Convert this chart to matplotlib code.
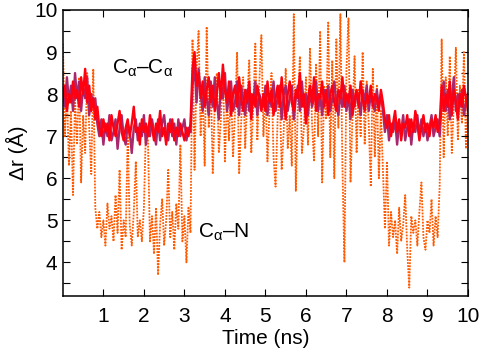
"""Distance fluctuations of C-alpha pairs over a 10 ns trajectory."""
import numpy as np
import matplotlib
matplotlib.use('Agg')
import matplotlib.pyplot as plt
from matplotlib.ticker import MultipleLocator

plt.rcParams['font.family'] = ['Liberation Sans', 'DejaVu Sans']
plt.rcParams['mathtext.fontset'] = 'custom'
plt.rcParams['mathtext.rm'] = 'Liberation Sans'
plt.rcParams['mathtext.it'] = 'Liberation Sans'

# Ca-Ca distance (red), sampled every 0.05 ns
ca_ca = [
    7.9, 8.2, 7.6, 8.0, 7.8, 8.3, 7.9, 8.1, 7.7, 8.4, 8.0, 8.6, 7.8, 8.2, 7.6, 7.9, 7.4, 7.7,
    7.2, 7.0, 7.4, 7.1, 7.3, 6.9, 7.5, 7.2, 7.0, 7.3, 7.6, 7.1, 6.9, 7.2, 7.4, 7.0, 7.3, 7.7,
    7.1, 7.2, 6.8, 7.4, 7.1, 7.3, 7.0, 7.5, 7.2, 6.9, 7.3, 7.1, 7.6, 7.0, 7.2, 6.8, 7.3, 7.1,
    7.4, 6.9, 7.2, 7.0, 7.3, 7.1, 6.9, 7.2, 7.0, 7.3,
    8.6, 9.0, 8.2, 8.5, 7.9, 8.3, 7.7, 8.1, 8.4, 7.8, 8.2, 7.6, 8.0, 8.5, 7.9, 8.7, 8.1, 7.8,
    8.3, 7.5, 8.0, 8.2, 7.7, 8.4, 7.9, 7.6, 8.1, 7.8, 8.3, 7.4, 8.0, 7.7, 8.2, 7.9, 7.6,
    8.0, 7.6, 8.3, 7.8, 8.1, 7.5, 7.9, 8.2, 7.7, 8.4, 7.9, 7.4, 8.0, 8.3, 7.8, 7.6, 8.1, 7.9,
    8.5, 7.7, 8.0, 7.3, 7.9, 8.2, 7.8, 8.4, 7.6, 8.0, 7.9, 8.3, 7.7, 8.1, 7.5, 8.0, 8.2, 7.8,
    7.6, 8.1, 7.9, 8.4, 7.7, 8.0, 7.8, 8.2, 7.5, 7.9, 8.1, 7.7, 8.3, 7.9, 7.6, 8.0, 7.8, 8.2,
    7.7, 8.0, 7.9, 7.6, 8.1, 7.8,
    7.4, 7.2, 7.5, 7.0, 7.3, 7.6, 7.1, 7.4, 6.9, 7.3, 7.2, 7.5, 7.0, 7.4, 7.1, 7.6, 7.3, 6.9,
    7.2, 7.5, 7.1, 7.3, 7.0, 7.4, 7.2, 7.5, 7.1, 7.3,
    8.2, 7.6, 8.0, 7.7, 8.3, 7.5, 8.1, 7.8, 7.4, 8.0, 7.7, 8.2, 7.9, 7.6,
]

# second Ca-Ca trace drawn underneath (purple)
ca_ca_b = [
    8.1, 7.7, 8.4, 7.8, 8.2, 7.6, 8.5, 7.9, 8.3, 7.6, 8.2, 7.9, 8.4, 7.5, 8.0, 7.7, 7.9, 7.3,
    7.0, 7.4, 6.8, 7.3, 7.0, 7.5, 6.9, 7.1, 7.4, 6.7, 7.2, 7.5, 7.0, 6.8, 7.3, 7.1, 6.6, 7.2,
    7.4, 6.9, 7.3, 7.0, 7.5, 6.8, 7.2, 7.0, 7.4, 7.1, 6.8, 7.4, 6.9, 7.3, 7.5, 7.0, 6.9, 7.4,
    7.0, 7.3, 6.8, 7.4, 7.0, 7.2, 7.4, 6.9, 7.2, 7.1,
    8.2, 8.7, 7.8, 8.6, 8.0, 7.6, 8.4, 7.9, 7.5, 8.3, 7.7, 8.4, 7.8, 7.4, 8.2, 7.9, 8.5, 7.6,
    7.9, 8.3, 7.6, 7.8, 8.3, 7.5, 8.2, 7.9, 7.5, 8.1, 7.6, 8.0, 7.8, 8.3, 7.5, 8.0, 7.8,
    7.7, 8.2, 7.5, 8.0, 7.7, 8.3, 7.6, 7.9, 8.2, 7.4, 8.0, 8.2, 7.6, 7.9, 8.2, 7.4, 7.9, 8.2,
    7.6, 8.3, 7.7, 8.0, 7.5, 8.1, 7.7, 7.9, 8.3, 7.6, 8.0, 7.5, 8.1, 7.8, 8.2, 7.6, 7.9, 8.3,
    7.8, 7.5, 8.0, 7.7, 8.2, 7.6, 8.0, 7.4, 8.1, 7.7, 8.0, 7.9, 7.5, 8.1, 7.8, 8.2, 7.6, 8.0,
    7.8, 7.6, 8.1, 7.7, 8.0, 7.6,
    7.1, 7.5, 6.9, 7.3, 7.1, 7.4, 6.8, 7.3, 7.1, 7.5, 6.9, 7.2, 7.4, 6.8, 7.3, 7.1, 7.5, 7.0,
    7.4, 7.0, 7.3, 6.9, 7.2, 7.5, 7.0, 7.2, 7.4, 7.0,
    7.8, 8.3, 7.6, 8.1, 7.4, 7.9, 8.4, 7.6, 8.0, 7.7, 8.1, 7.5, 7.8, 8.0,
]

# Ca-N distance (orange, dotted)
ca_n = [
    9.2, 7.0, 8.1, 6.3, 7.6, 5.6, 7.9, 6.8, 8.4, 5.9, 7.5, 6.6, 8.5, 7.2, 6.1, 8.6, 5.3, 4.8,
    5.2, 4.6, 5.0, 4.4, 5.4, 4.8, 5.1, 4.5, 5.6, 4.7, 6.2, 4.3, 5.0, 4.6, 7.0, 4.9, 4.4, 5.2,
    6.4, 4.6, 5.0, 4.5, 5.3,
    7.2, 6.9, 4.5, 5.1, 4.2, 5.3, 3.7, 4.9, 5.5, 4.4, 5.0, 6.2, 4.6, 5.2, 4.3, 5.4, 4.8, 6.8,
    4.5, 5.1, 4.0, 5.3, 4.7,
    9.3, 6.2, 8.6, 9.5, 7.0, 8.1, 6.3, 9.6, 7.2, 8.3, 6.1, 7.8, 8.5, 6.6, 7.4, 8.7, 6.4, 7.9,
    6.9, 8.2, 6.5, 7.6, 9.0, 6.1, 7.3, 8.4, 6.7, 7.9, 8.8, 6.6, 7.7, 9.2, 6.9, 8.3, 9.4, 7.0,
    8.1, 6.4, 7.6, 8.5, 6.5, 5.8, 7.4, 8.2, 6.2, 7.1, 8.6, 6.7, 7.5, 6.3, 9.9, 5.7, 7.8, 8.9,
    6.6, 7.2, 8.4, 6.8, 9.1, 7.3, 6.4, 8.7, 7.0, 9.5, 5.9, 8.2, 7.4, 9.7, 6.5, 8.8, 6.0, 9.3,
    7.2, 9.9, 6.3, 4.0, 8.6, 9.8, 5.9, 7.5, 8.9, 6.6, 8.1, 7.0, 9.0, 6.8, 8.3, 7.3, 5.8, 8.6,
    6.5, 8.2, 6.0, 7.6, 6.2,
    4.8, 6.4, 4.4, 5.2, 4.6, 5.0, 4.2, 5.3, 4.5, 4.9, 5.6, 4.3, 3.4, 5.1, 4.7, 5.0, 4.4, 5.2,
    5.9, 4.6, 4.3, 5.0, 4.7, 5.5, 4.4, 5.1, 4.6, 5.8,
    9.3, 6.5, 8.4, 7.0, 8.9, 6.6, 7.8, 9.1, 6.9, 8.2, 7.3, 9.0, 6.7, 7.9,
]


def main():
    fig = plt.figure(figsize=(4.8, 3.55), dpi=100)
    ax = fig.add_axes([0.131, 0.166, 0.844, 0.806])

    ax.plot(np.linspace(0, 10, len(ca_n)), ca_n, ls=(0, (1.0, 0.7)), lw=1.3,
            color='#ff5a00')
    ax.plot(np.linspace(0, 10, len(ca_ca_b)), ca_ca_b, lw=1.7,
            color='#a8286e')
    ax.plot(np.linspace(0, 10, len(ca_ca)), ca_ca, lw=1.7, color='#ff0010')

    ax.text(1.22, 8.6, r'C$_\alpha$–C$_\alpha$', fontsize=15, va='center')
    ax.text(3.33, 4.72, r'C$_\alpha$–N', fontsize=15, va='center')

    ax.set_xlim(0, 10)
    ax.set_ylim(3.2, 10)
    ax.set_xticks(range(1, 11))
    ax.yaxis.set_major_locator(MultipleLocator(1))
    ax.yaxis.set_minor_locator(MultipleLocator(0.5))
    ax.tick_params(which='both', direction='in', top=True, right=True,
                   length=5, width=0.8, labelsize=15)
    ax.tick_params(axis='x', pad=8)
    ax.tick_params(axis='y', pad=4)
    for spine in ax.spines.values():
        spine.set_linewidth(1.1)

    ax.set_xlabel('Time (ns)', fontsize=15, labelpad=2)
    ax.set_ylabel('Δr (Å)', fontsize=15, labelpad=4)

    fig.savefig('out.png', dpi=100)


if __name__ == '__main__':
    main()
